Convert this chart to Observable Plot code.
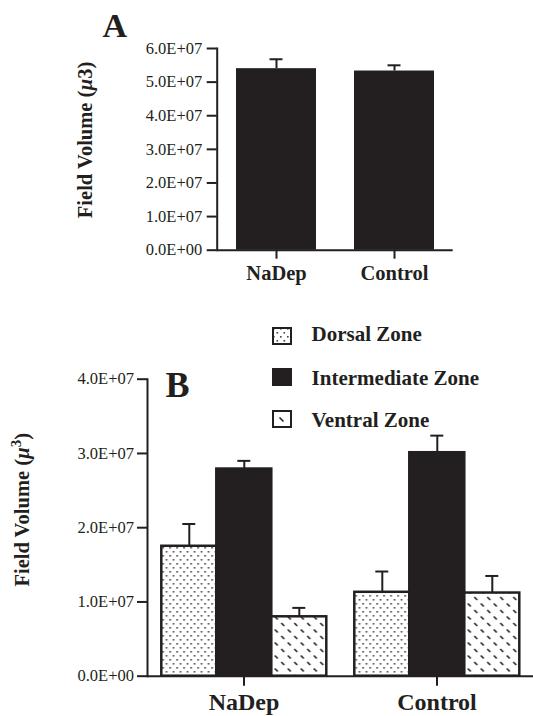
<!DOCTYPE html>
<html><head><meta charset="utf-8">
<script src="https://cdn.jsdelivr.net/npm/d3@7"></script>
<script src="https://cdn.jsdelivr.net/npm/@observablehq/plot@0.6"></script>
<style>
body{margin:0;background:#fff;font-family:"Liberation Serif",serif;color:#231f20;}
#wrap{position:relative;width:533px;height:716px;overflow:hidden;background:#fff;}
.abs{position:absolute;line-height:1;white-space:nowrap;}
.panel{font-weight:bold;}
.leg{font-size:21px;font-weight:bold;}
.sw{position:absolute;width:20px;height:18px;}
</style></head><body>
<div id="wrap">
<svg width="0" height="0" style="position:absolute">
  <defs>
    <pattern id="dots" width="7" height="8" patternUnits="userSpaceOnUse">
      <rect width="7" height="8" fill="#fff"/>
      <rect x="1" y="1" width="1.6" height="1.6" fill="#444"/>
      <rect x="4.5" y="5" width="1.6" height="1.6" fill="#444"/>
    </pattern>
    <pattern id="hatch" width="13" height="13" patternUnits="userSpaceOnUse">
      <rect width="13" height="13" fill="#fff"/>
      <line x1="1.5" y1="1.5" x2="4.5" y2="4.5" stroke="#231f20" stroke-width="1.6"/>
      <line x1="8" y1="8" x2="11" y2="11" stroke="#231f20" stroke-width="1.6"/>
    </pattern>
  </defs>
</svg>
<div id="chartA" class="abs" style="left:0;top:0"></div>
<div id="chartB" class="abs" style="left:0;top:290px"></div>
<div class="abs panel" style="left:102.5px;top:9px;font-size:34px">A</div>
<div class="abs panel" style="left:165.5px;top:367px;font-size:36px">B</div>
<div id="legend"></div>
</div>
<script>
// ---- Data: panel A ----
const groupsA = ["NaDep", "Control"];
const meanA = [5.40e7, 5.33e7];
const errA = [0.28e7, 0.17e7];
const yTicksA = [0, 1e7, 2e7, 3e7, 4e7, 5e7, 6e7];
const yLabelsA = ["0.0E+00", "1.0E+07", "2.0E+07", "3.0E+07", "4.0E+07", "5.0E+07", "6.0E+07"];

// ---- Data: panel B ----
const groupsB = ["NaDep", "Control"];
const zones = ["Dorsal Zone", "Intermediate Zone", "Ventral Zone"];
const nadepMeans = [1.75e7, 2.79e7, 0.80e7];
const nadepErrs = [0.30e7, 0.11e7, 0.12e7];
const controlMeans = [1.13e7, 3.01e7, 1.12e7];
const controlErrs = [0.28e7, 0.23e7, 0.23e7];
const yTicksB = [0, 1e7, 2e7, 3e7, 4e7];
const yLabelsB = ["0.0E+00", "1.0E+07", "2.0E+07", "3.0E+07", "4.0E+07"];
const zoneFills = ["url(#dots)", "#231f20", "url(#hatch)"];

const INK = "#231f20";
const font = "Liberation Serif";

const dataA = groupsA.map((g, i) => ({group: g, mean: meanA[i], top: meanA[i] + errA[i]}));

const chartA = Plot.plot({
  width: 533, height: 290,
  marginLeft: 216.7, marginRight: 80.3, marginTop: 48, marginBottom: 40.3,
  style: {fontFamily: font, fontSize: "16px", color: INK, background: "transparent", overflow: "visible"},
  x: {domain: groupsA, paddingInner: 0.322, paddingOuter: 0.155, label: null},
  y: {domain: [0, 6e7]},
  marks: [
    Plot.barY(dataA, {x: "group", y: "mean", fill: INK}),
    Plot.ruleX(dataA, {x: "group", y1: "mean", y2: "top", stroke: INK, strokeWidth: 2}),
    Plot.tickY(dataA, {x: "group", y: "top", stroke: INK, strokeWidth: 2, insetLeft: 33.5, insetRight: 33.5}),
    Plot.axisY({ticks: yTicksA, tickFormat: d => yLabelsA[yTicksA.indexOf(d)], tickSize: 10, tickPadding: 5,
      stroke: INK, strokeWidth: 2, fontSize: 16.5, label: "Field Volume (µ3)", labelAnchor: "center", labelArrow: "none",
      labelOffset: 140}),
    Plot.axisX({tickSize: 9, tickPadding: 6.5, stroke: INK, strokeWidth: 2, fontSize: 20.5, fontWeight: "bold", label: null}),
    Plot.frame({anchor: "left", stroke: INK, strokeWidth: 2}),
    Plot.ruleY([0], {stroke: INK, strokeWidth: 2})
  ]
});
document.getElementById("chartA").appendChild(chartA);

const dataB = [];
groupsB.forEach((g, gi) => {
  const means = gi === 0 ? nadepMeans : controlMeans;
  const errs = gi === 0 ? nadepErrs : controlErrs;
  zones.forEach((z, zi) => dataB.push({group: g, zone: z, mean: means[zi], top: means[zi] + errs[zi]}));
});

const chartB = Plot.plot({
  width: 533, height: 426,
  marginLeft: 146.7, marginRight: 0, marginTop: 88.7, marginBottom: 40.3,
  style: {fontFamily: font, fontSize: "16px", color: INK, background: "transparent", overflow: "visible"},
  fx: {domain: groupsB, padding: 0, label: null},
  x: {domain: zones, paddingInner: 0, paddingOuter: 0.243, axis: null, label: null},
  y: {domain: [0, 4e7]},
  color: {domain: zones, range: zoneFills},
  marks: [
    Plot.barY(dataB, {fx: "group", x: "zone", y: "mean", fill: "zone", stroke: INK, strokeWidth: 2.5}),
    Plot.ruleX(dataB, {fx: "group", x: "zone", y1: "mean", y2: "top", stroke: INK, strokeWidth: 2}),
    Plot.tickY(dataB, {fx: "group", x: "zone", y: "top", stroke: INK, strokeWidth: 2, insetLeft: 21, insetRight: 21}),
    Plot.axisY({ticks: yTicksB, tickFormat: d => yLabelsB[yTicksB.indexOf(d)], tickSize: 10, tickPadding: 3.5,
      stroke: INK, strokeWidth: 2, fontSize: 16.5, label: "Field Volume (µ3)", labelAnchor: "center", labelArrow: "none",
      labelOffset: 133}),
    Plot.axisFx({anchor: "bottom", tickSize: 10, tickPadding: 7, stroke: INK, strokeWidth: 2, fontSize: 24, fontWeight: "bold", label: null}),
    Plot.frame({anchor: "left", stroke: INK, strokeWidth: 2, facetAnchor: "left"}),
    Plot.ruleY([0], {stroke: INK, strokeWidth: 2})
  ]
});
document.getElementById("chartB").appendChild(chartB);

// Rich y-axis titles (italic µ, superscript in panel B) and vertical placement
function richLabel(svg, sup, dy) {
  const g = svg.querySelector('g[aria-label="y-axis label"]');
  if (!g) return;
  const t = g.querySelector("text");
  const prev = g.getAttribute("transform") || "";
  g.setAttribute("transform", `translate(0,${dy}) ${prev}`);
  t.textContent = "";
  t.setAttribute("font-weight", "bold");
  t.setAttribute("font-size", "20.5");
  const ns = "http://www.w3.org/2000/svg";
  const add = (s, attrs) => { const e = document.createElementNS(ns, "tspan"); e.textContent = s;
    for (const k in attrs) e.setAttribute(k, attrs[k]); t.appendChild(e); return e; };
  add("Field Volume (", {});
  add("µ", {"font-style": "italic"});
  if (sup) { add("3", {"baseline-shift": "super", "font-size": "15"}); }
  else { add("3", {}); }
  add(")", {});
}
richLabel(chartA, false, -9.4);
richLabel(chartB, true, -18);

// Legend for panel B
const legendTops = [326.5, 367.5, 409.5];
const legendTextTops = [324.3, 368, 409.6];
const legend = document.getElementById("legend");
zones.forEach((z, i) => {
  const sw = document.createElement("div");
  sw.className = "sw";
  sw.style.left = "271.6px";
  sw.style.top = legendTops[i] + "px";
  let inner = "";
  if (i === 0) inner = '<rect x="1" y="1" width="18" height="16" fill="url(#dots)" stroke="#231f20" stroke-width="2"/>';
  else if (i === 1) inner = '<rect x="0" y="0" width="20" height="18" fill="#231f20"/>';
  else inner = '<rect x="1" y="1" width="18" height="16" fill="#fff" stroke="#231f20" stroke-width="2"/><line x1="7.5" y1="7.5" x2="11.5" y2="11.5" stroke="#231f20" stroke-width="1.6"/>';
  sw.innerHTML = '<svg width="20" height="18">' + inner + '</svg>';
  legend.appendChild(sw);
  const tx = document.createElement("div");
  tx.className = "abs leg";
  tx.style.left = "311.6px";
  tx.style.top = legendTextTops[i] + "px";
  tx.textContent = z;
  legend.appendChild(tx);
});
</script>
</body></html>
